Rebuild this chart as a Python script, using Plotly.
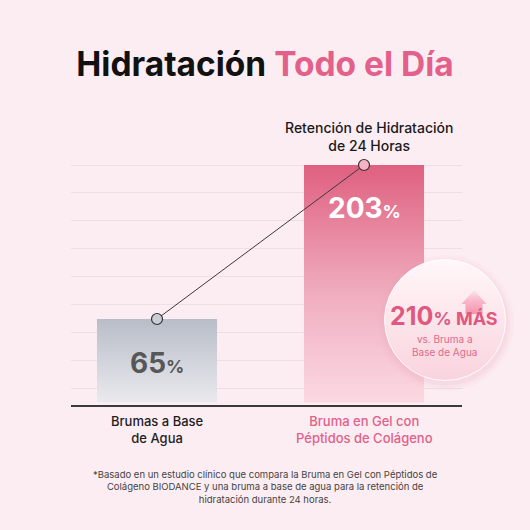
import plotly.graph_objects as go

# ---------------- data ----------------
categories = ["Brumas a Base<br>de Agua", "Bruma en Gel con<br>Péptidos de Colágeno"]
values = [65, 203]
increase_pct = 210
title_main = "Hidratación"
title_accent = "Todo el Día"
metric_label = "Retención de Hidratación<br>de 24 Horas"
bubble_sub = "vs. Bruma a<br>Base de Agua"
footnote = ("*Basado en un estudio clínico que compara la Bruma en Gel con Péptidos de<br>"
            "Colágeno BIODANCE y una bruma a base de agua para la retención de<br>"
            "hidratación durante 24 horas.")

# ---------------- style ----------------
W = H = 530
BG = "#fcedf2"
PINK = "#e2608a"
FONT = "Inter"
YMIN, YMAX = -12.07, 216.44
BAR_BASE = YMIN + 2.2
BAR_W = 0.58
bar_scales = [
    [[0, "#eaeaee"], [1, "#b8bdc8"]],
    [[0, "#fbd9e3"], [0.45, "#f0aec0"], [1, "#df6080"]],
]
label_colors = ["#1e1e1e", PINK]
marker_colors = ["#c9cdd5", "#f5b3c5"]

fig = go.Figure()

# bars drawn as filled rectangles with vertical gradient
for i, v in enumerate(values):
    fig.add_trace(go.Scatter(
        x=[i - BAR_W / 2, i + BAR_W / 2, i + BAR_W / 2, i - BAR_W / 2, i - BAR_W / 2],
        y=[BAR_BASE, BAR_BASE, v, v, BAR_BASE],
        fill="toself", mode="lines", line=dict(width=0),
        fillgradient=dict(type="vertical", colorscale=bar_scales[i]),
        hoverinfo="skip", showlegend=False, xaxis="x", yaxis="y"))

# connecting line with markers
fig.add_trace(go.Scatter(
    x=list(range(len(values))), y=values, mode="lines+markers",
    line=dict(color="#3a3a3a", width=1),
    marker=dict(size=11, color=marker_colors, line=dict(color="#333333", width=1.2)),
    cliponaxis=False, showlegend=False, hoverinfo="skip", xaxis="x", yaxis="y"))

# ---------- decorative bubble on a pixel-space overlay axis ----------
bx, by = 445, 320
for s, a in [(136, 0.05), (130, 0.07), (125, 0.09)]:
    fig.add_trace(go.Scatter(
        x=[bx + 1], y=[by + 3], mode="markers",
        marker=dict(size=s, color=f"rgba(228,160,182,{a})", line=dict(width=0)),
        cliponaxis=False, showlegend=False, hoverinfo="skip", xaxis="x2", yaxis="y2"))
fig.add_trace(go.Scatter(
    x=[bx], y=[by], mode="markers",
    marker=dict(size=121, color="#fff7f9",
                gradient=dict(type="vertical", color="#f9d3de"),
                line=dict(color="rgba(255,255,255,0.9)", width=1)),
    cliponaxis=False, showlegend=False, hoverinfo="skip", xaxis="x2", yaxis="y2"))
# up arrow
fig.add_trace(go.Scatter(
    x=[474, 486.5, 482.5, 482.5, 465.5, 465.5, 461.5, 474],
    y=[290, 304, 304, 314, 314, 304, 304, 290],
    fill="toself", mode="lines", line=dict(width=0),
    fillgradient=dict(type="vertical", colorscale=[[0, "#f394ae"], [0.6, "#f8bccc"], [1, "#fde6ec"]]),
    showlegend=False, hoverinfo="skip", xaxis="x2", yaxis="y2"))

annotations = []
# value labels
annotations.append(dict(
    x=0, y=values[0], xref="x", yref="y", yanchor="middle", yshift=-44,
    text=f"<b>{values[0]}</b><b><span style='font-size:18px'>%</span></b>",
    font=dict(family=FONT, size=28, color="#575757"), showarrow=False))
annotations.append(dict(
    x=1, y=values[1], xref="x", yref="y", yanchor="middle", yshift=-43,
    text=f"<b>{values[1]}</b><b><span style='font-size:18px'>%</span></b>",
    font=dict(family=FONT, size=28, color="#ffffff"), showarrow=False))
# metric label
annotations.append(dict(
    x=1, y=values[1], xref="x", yref="y", yanchor="bottom", yshift=9, xshift=5,
    text=metric_label, font=dict(family=FONT, size=14, color="#1a1a1a", weight=500),
    showarrow=False))
# category labels
for i, c in enumerate(categories):
    annotations.append(dict(
        x=i, y=0, xref="x", yref="y domain", yanchor="top", yshift=-6,
        text=c, font=dict(family=FONT, size=13, color=label_colors[i], weight=500),
        showarrow=False))
# bubble texts
annotations.append(dict(
    x=444, y=316, xref="x2", yref="y2", yanchor="middle",
    text=f"<b>{increase_pct}</b><b><span style='font-size:18px'>% MÁS</span></b>",
    font=dict(family=FONT, size=25, color="#e0587e"), showarrow=False))
annotations.append(dict(
    x=444, y=345, xref="x2", yref="y2", yanchor="middle",
    text=bubble_sub, font=dict(family=FONT, size=10, color="#e06a8c"), showarrow=False))
# footnote
annotations.append(dict(
    x=265, y=487, xref="x2", yref="y2", yanchor="middle",
    text=footnote, font=dict(family=FONT, size=9.5, color="#444444"), showarrow=False))

fig.update_layout(
    width=W, height=H, autosize=False,
    margin=dict(l=0, r=0, t=0, b=0),
    paper_bgcolor=BG, plot_bgcolor="rgba(0,0,0,0)",
    title=dict(text=f"<b>{title_main} <span style='color:{PINK}'>{title_accent}</span></b>",
               x=0.5, xref="container", xanchor="center",
               y=1 - 64 / H, yref="container", yanchor="middle",
               font=dict(family=FONT, size=33.5, color="#111111")),
    xaxis=dict(domain=[71 / W, 462 / W], range=[-0.4155, 1.4734],
               showgrid=False, zeroline=False, showticklabels=False, ticks="",
               showline=True, linecolor="#3a3a3a", linewidth=1.8, fixedrange=True),
    yaxis=dict(domain=[125 / H, 380 / H], range=[YMIN, YMAX],
               showgrid=True, gridcolor="#eedfe5", gridwidth=1, tick0=3, dtick=25,
               zeroline=False, showticklabels=False, ticks="", showline=False, fixedrange=True),
    xaxis2=dict(domain=[0, 1], range=[0, W], visible=False, anchor="y2", fixedrange=True),
    yaxis2=dict(domain=[0, 1], range=[H, 0], visible=False, anchor="x2", fixedrange=True),
    annotations=annotations,
    showlegend=False,
)

fig.write_html("out.html")
